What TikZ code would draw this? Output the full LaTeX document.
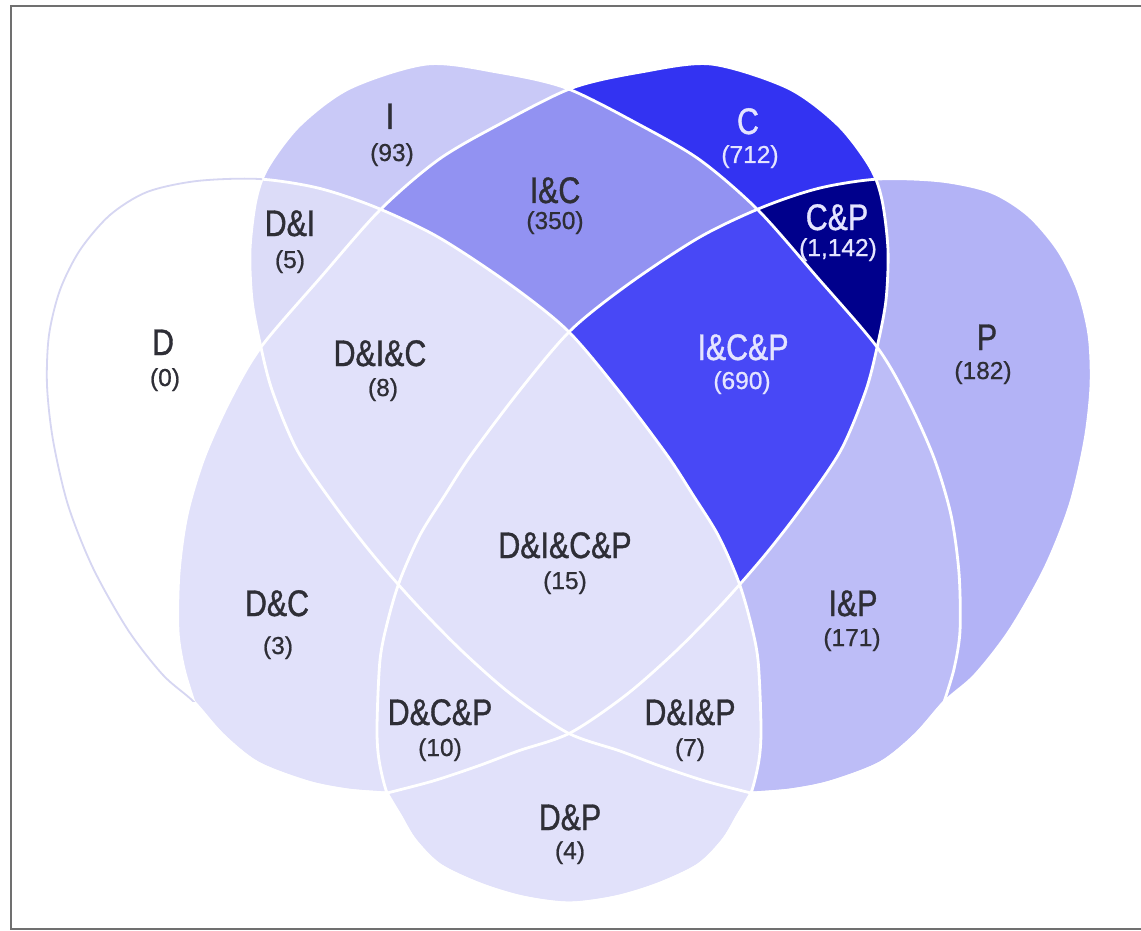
\documentclass[tikz,border=0pt]{standalone}
\usepackage{fontspec}
\setmainfont{Liberation Sans}[FakeBold=0.8]
\newfontfamily\labfont{Liberation Sans}[FakeStretch=0.82,FakeBold=1.0]
\definecolor{cD}{HTML}{FFFFFF}
\definecolor{cLight}{HTML}{E1E1FA}
\definecolor{cDI}{HTML}{DCDCF8}
\definecolor{cI}{HTML}{C9C9F7}
\definecolor{cIP}{HTML}{BDBDF7}
\definecolor{cP}{HTML}{B3B3F6}
\definecolor{cIC}{HTML}{9292F2}
\definecolor{cICP}{HTML}{4848F6}
\definecolor{cC}{HTML}{3333F2}
\definecolor{cCP}{HTML}{00008C}
\definecolor{lavline}{HTML}{D6D6F2}
\definecolor{framegray}{HTML}{707070}
\definecolor{txtdark}{HTML}{2E2E36}
\definecolor{txtlight}{HTML}{E4E4FF}
% P (right outer shape); D is its mirror image
\def\pP{plot[smooth] coordinates {(751,793) (738,815) (723,840) (698,865) (658,884) (615,897) (569,903) (522,897) (480,884) (440,865) (415,840) (400,815) (387,793) (379,760) (377,727) (380,660) (388,620) (400,580) (420,535) (445,495) (471,455) (520,390) (571,330) (630,283) (700,237) (763,207) (820,188) (879,179) (941,181) (991,192) (1028,215) (1058,250) (1078,290) (1089,335) (1091,385) (1085,440) (1070,505) (1045,568) (1010,630) (975,675) (944,702) (915,735) (880,763) (830,782) (790,790) (751,793)} -- cycle}
% I (upper-left inner shape); C is its mirror image
\def\pI{plot[smooth] coordinates {(751,793) (705,781) (660,766) (620,751) (568,733) (512,695) (462,651) (415,603) (373,555) (335,506) (297,450) (272,390) (260,343) (252,300) (250,250) (256,200) (268,167) (300,125) (350,88) (427,64) (497,72) (566,88) (640,125) (700,160) (758,210) (817,277) (877,347) (908,400) (934,458) (951,515) (959,573) (960,631) (954,669) (944,702)} -- plot[smooth] coordinates {(944,702) (915,735) (880,763) (830,782) (790,790) (751,793)} -- cycle}
\def\inD{\clip[flipx]\pP;}
\def\inI{\clip\pI;}
\def\inC{\clip[flipx]\pI;}
\def\inP{\clip\pP;}
\newcommand\paint[2]{\begin{scope}#1\fill[#2] (0,0) rectangle (1141,931);\end{scope}}
\begin{document}
\begin{tikzpicture}[x=1pt,y=-1pt,
  flipx/.style={xshift=1138pt,xscale=-1},
  wl/.style={draw=white,line width=2.8pt},
  lav/.style={draw=lavline,line width=1.8pt},
  lbl/.style={font=\labfont\fontsize{37}{40}\selectfont,anchor=base,inner sep=0pt,text=txtdark},
  num/.style={font=\fontsize{24.5}{28}\selectfont,anchor=base,inner sep=0pt,text=txtdark},
  onDark/.style={text=txtlight},
  framel/.style={draw=framegray,line width=2.4pt}]
\useasboundingbox (0,0) rectangle (1141,931);
% singles
\paint{\inD}{cD}
\paint{\inI}{cI}
\paint{\inC}{cC}
\paint{\inP}{cP}
% pairs
\paint{\inD\inI}{cDI}
\paint{\inD\inC}{cLight}
\paint{\inD\inP}{cLight}
\paint{\inI\inC}{cIC}
\paint{\inI\inP}{cIP}
\paint{\inC\inP}{cCP}
% triples
\paint{\inD\inI\inC}{cLight}
\paint{\inD\inI\inP}{cLight}
\paint{\inD\inC\inP}{cLight}
\paint{\inI\inC\inP}{cICP}
% all four
\paint{\inD\inI\inC\inP}{cLight}
% boundaries
\draw[wl] \pP;
\draw[wl,flipx] \pP;
\draw[wl] \pI;
\draw[wl,flipx] \pI;
\begin{scope}
  \clip (0,0) rectangle (262,701);
  \draw[lav,flipx] \pP;
\end{scope}
% frame
\begin{scope}
  \clip (0,0) rectangle (1141,931);
  \draw[framel] (1150,6) -- (11,6) -- (11,929) -- (1150,929);
\end{scope}
% labels
\node[lbl] (tD) at (163,355) {D};
\node[num] (nD) at (165,386) {(0)};
\node[lbl] (tI) at (390,129) {I};
\node[num] (nI) at (392,161) {(93)};
\node[lbl,onDark] (tC) at (748,134) {C};
\node[num,onDark] (nC) at (750,163) {(712)};
\node[lbl] (tP) at (987,350) {P};
\node[num] (nP) at (983,379) {(182)};
\node[lbl] (tDI) at (290,236) {D\&I};
\node[num] (nDI) at (290,268) {(5)};
\node[lbl] (tIC) at (555,203) {I\&C};
\node[num] (nIC) at (555,229) {(350)};
\node[lbl,onDark] (tCP) at (837,230) {C\&P};
\node[num,onDark] (nCP) at (838,256) {(1,142)};
\node[lbl] (tDIC) at (380,366) {D\&I\&C};
\node[num] (nDIC) at (383,396) {(8)};
\node[lbl,onDark] (tICP) at (743,360) {I\&C\&P};
\node[num,onDark] (nICP) at (742,389) {(690)};
\node[lbl] (tDICP) at (565,558) {D\&I\&C\&P};
\node[num] (nDICP) at (565,589) {(15)};
\node[lbl] (tDC) at (277,616) {D\&C};
\node[num] (nDC) at (278,654) {(3)};
\node[lbl] (tIP) at (853,616) {I\&P};
\node[num] (nIP) at (852,646) {(171)};
\node[lbl] (tDCP) at (440,725) {D\&C\&P};
\node[num] (nDCP) at (440,756) {(10)};
\node[lbl] (tDIP) at (690,725) {D\&I\&P};
\node[num] (nDIP) at (690,756) {(7)};
\node[lbl] (tDP) at (570,830) {D\&P};
\node[num] (nDP) at (570,859) {(4)};
\end{tikzpicture}
\end{document}
